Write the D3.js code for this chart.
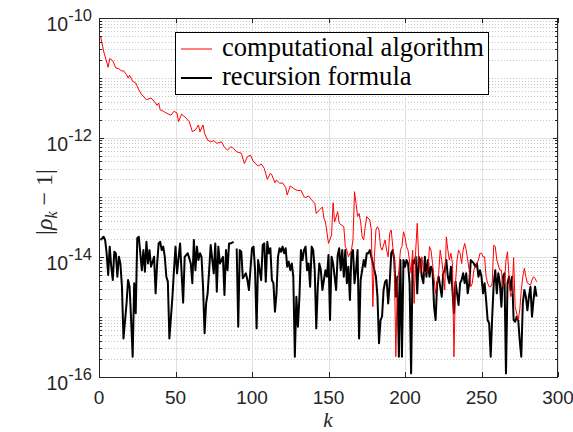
<!DOCTYPE html>
<html><head><meta charset="utf-8">
<script src="https://cdn.jsdelivr.net/npm/d3@7"></script>
<style>html,body{margin:0;padding:0;background:#fff;}svg{display:block;}</style>
</head><body>
<svg id="chart" width="573" height="432"></svg>
<script>
// ---- data ----
const xTickVals = [0, 50, 100, 150, 200, 250, 300];
const yTickExps = [-16, -14, -12, -10];
const seriesNames = ["computational algorithm", "recursion formula"];

const kRed = [1,3,6,7,9,11,13,15,16,18,19,20,22,24,26,28,30,31,34,36,38,39,40,42,44,47,49,51,52,54,57,59,61,63,65,66,68,69,71,73,75,77,80,82,84,86,88,90,93,95,97,99,101,104,106,108,110,112,113,115,116,118,120,122,123,125,128,130,132,134,135,137,139,141,142,144,146,147,148,150,152,153,154,156,157,160,161,162,163,165,166,167,168,169,170,171,172,173,174,175,177,178,179,180,181,182,183,184,185,187,188,189,190,191,192,193,194,195,196,197,198,199,200,201,202,204,205,206,207,208,209,210,211,212,213,215,216,217,218,220,221,222,223,224,225,226,227,228,229,230,231,232,233,234,235,236,237,238,239,240,242,243,244,245,246,248,249,250,251,252,253,254,255,256,257,258,259,260,262,263,264,265,266,267,268,269,270,271,272,274,275,276,277,278,279,280,282,283,284,285,286];
const vRed = [5.0e-11,2.8e-11,1.5e-11,2.1e-11,1.93e-11,1.46e-11,1.42e-11,1.29e-11,1.32e-11,1.13e-11,9.9e-12,1.10e-11,8.75e-12,8.2e-12,6.3e-12,5.2e-12,4.6e-12,4.3e-12,4.6e-12,4.06e-12,3.47e-12,3.8e-12,2.93e-12,2.76e-12,2.58e-12,2.37e-12,2.76e-12,2.58e-12,1.85e-12,2.48e-12,2.11e-12,1.85e-12,1.26e-12,1.34e-12,1.63e-12,1.26e-12,1.63e-12,1.18e-12,9.1e-13,8.55e-13,8.9e-13,8.05e-13,8.55e-13,6.9e-13,6.2e-13,7.06e-13,6.6e-13,5.8e-13,5.5e-13,3.7e-13,4.8e-13,5.1e-13,3.96e-13,3.36e-13,3.63e-13,3.08e-13,2.01e-13,2.54e-13,2.38e-13,1.77e-13,1.96e-13,1.73e-13,1.75e-13,1.48e-13,1.10e-13,1.56e-13,1.37e-13,1.30e-13,1.32e-13,1.03e-13,1.0e-13,1.06e-13,9.1e-14,8.0e-14,5.4e-14,6.2e-14,6.9e-14,4.5e-14,3.9e-14,1.71e-14,2.36e-14,8.2e-14,3.9e-14,5.8e-14,3.7e-14,3.25e-14,1.51e-14,1.32e-14,1.02e-14,1.32e-14,1.95e-14,1.25e-13,8.0e-14,4.8e-14,5.4e-14,3.9e-14,2.2e-14,1.95e-14,3.25e-14,4.8e-14,4.2e-14,2.86e-14,1.50e-15,1.02e-14,2.86e-14,3.25e-14,2.86e-14,1.51e-14,1.32e-14,1.95e-14,1.32e-14,1.02e-14,2.52e-14,2.86e-14,1.51e-14,9.0e-15,2.18e-16,3.7e-15,6.1e-15,1.32e-14,1.51e-14,2.68e-14,2.2e-14,1.51e-14,1.32e-14,5.4e-15,1.32e-14,1.70e-15,1.32e-14,3.7e-14,9.0e-15,5.4e-15,1.02e-14,6.1e-15,5.4e-15,6.1e-15,1.51e-14,1.32e-14,7.9e-15,2.5e-15,3.7e-15,5.4e-15,1.32e-14,9.0e-15,5.4e-15,2.84e-15,2.2e-14,1.32e-14,9.0e-15,1.17e-14,7.9e-15,2.18e-16,3.7e-15,9.0e-15,1.32e-14,1.17e-14,7.9e-15,1.32e-14,1.71e-14,1.32e-14,6.1e-15,3.23e-15,3.7e-15,6.1e-15,6.97e-15,9.0e-15,1.17e-14,1.17e-14,1.02e-14,1.02e-14,4.74e-15,3.7e-15,3.23e-15,3.23e-15,3.7e-15,1.61e-14,1.51e-14,9.0e-15,6.1e-15,6.1e-15,3.23e-15,3.7e-15,9.0e-15,1.24e-14,4.74e-15,2.2e-15,2.5e-15,9.86e-15,1.50e-15,8.95e-16,1.32e-15,2.84e-15,4.74e-15,6.55e-15,4.74e-15,3.7e-15,3.44e-15,4.18e-15,4.74e-15,4.46e-15,3.92e-15];

const kBlack = [1,3,4,5,6,7,8,9,10,11,12,13,14,15,16,18,19,20,21,22,23,24,25,26,27,28,29,30,31,32,33,34,36,37,38,39,40,41,42,43,44,45,46,48,49,50,51,53,55,56,58,60,61,62,63,64,65,66,67,68,69,70,71,72,73,75,76,77,78,79,81,82,83,84,85,86,88,89,90,91,92,93,94,96,97,98,100,101,102,103,104,106,107,108,109,110,111,112,113,114,115,116,117,118,119,120,121,122,123,124,125,126,127,128,129,130,131,132,133,134,135,136,137,138,139,140,141,142,143,144,145,146,147,148,149,150,151,152,153,154,155,156,157,158,159,160,161,162,163,164,165,166,167,168,169,170,171,172,173,174,175,176,177,178,179,180,181,182,183,184,185,186,187,188,189,190,191,192,193,194,195,196,197,198,199,200,201,202,203,204,205,206,207,208,209,210,211,212,213,214,215,216,217,218,219,220,221,222,224,225,226,227,228,229,230,231,232,233,234,235,236,237,238,239,240,241,242,243,244,245,246,247,248,249,250,251,252,253,254,255,256,257,258,259,260,261,262,263,264,265,266,267,268,269,270,271,272,273,274,275,276,277,278,279,280,281,282,283,284,285,286];
const vBlack = [1.95e-14,2.21e-14,1.95e-14,1.17e-14,5.06e-15,1.51e-14,6.97e-15,4.18e-15,1.24e-14,1.17e-14,4.74e-15,1.02e-14,7.9e-15,3.23e-15,4.4e-16,1.70e-15,4.18e-15,3.23e-15,8.95e-16,2.18e-16,3.7e-15,1.16e-15,2.08e-14,2.21e-14,1.17e-14,6.1e-15,1.32e-14,5.75e-15,1.82e-14,7.9e-15,1.32e-14,6.97e-15,1.02e-14,2.5e-15,7.9e-15,1.71e-14,1.82e-14,1.32e-14,1.51e-14,1.02e-14,4.74e-15,3.92e-15,4.4e-16,2.2e-15,6.1e-15,1.51e-14,5.4e-15,1.71e-14,1.75e-15,1.02e-14,1.17e-14,7.9e-15,3.7e-15,1.95e-14,6.1e-15,1.51e-14,9.0e-15,1.17e-14,1.02e-14,3.23e-15,5.4e-16,1.70e-15,2.5e-15,6.1e-15,1.61e-14,5.4e-15,1.71e-14,2.66e-15,1.51e-14,7.9e-15,1.02e-14,2.34e-15,1.32e-14,6.1e-15,1.71e-14,1.71e-14,1.82e-14,null,1.4e-14,6.9e-16,1.32e-14,1.24e-14,4.46e-15,5.4e-15,4.18e-15,2.84e-15,1.42e-14,1.51e-14,6.1e-15,6.5e-16,9.0e-15,4.18e-15,1.61e-14,1.71e-14,3.92e-15,1.82e-14,1.17e-14,1.42e-14,4.18e-15,3.7e-15,1.23e-15,2.5e-15,1.02e-14,1.42e-14,1.24e-14,1.51e-14,1.17e-14,1.42e-14,6.97e-15,8.45e-15,6.1e-15,7.9e-15,4.74e-15,2.18e-16,2.2e-15,6.9e-16,2.2e-15,1.32e-14,9.0e-15,1.32e-14,1.51e-14,6.1e-15,7.9e-15,3.23e-15,1.51e-14,1.32e-14,6.1e-15,6.5e-16,3.23e-15,7.9e-15,6.1e-15,2.84e-15,4.18e-15,6.1e-15,4.74e-15,1.09e-14,8.95e-16,1.02e-14,7.9e-15,4.74e-15,2.84e-15,1.09e-14,1.42e-14,6.1e-15,1.32e-14,4.74e-15,1.32e-14,3.7e-15,6.97e-15,1.94e-15,1.17e-14,1.32e-14,3.7e-15,6.1e-15,1.32e-14,4.4e-16,4.18e-15,6.1e-15,9.0e-15,6.97e-15,1.17e-14,1.17e-14,1.32e-14,1.02e-14,7.9e-15,6.1e-15,4.74e-15,2.2e-15,3.66e-16,8.95e-16,1.02e-15,2.84e-15,3.92e-15,4.18e-15,1.70e-15,3.7e-15,1.17e-14,1.32e-14,9.0e-15,2.2e-15,4.74e-15,2.18e-16,9.0e-15,2.18e-16,9.0e-15,6.97e-15,9.0e-15,7.9e-15,3.7e-15,1.15e-16,9.0e-15,7.9e-15,1.02e-14,2.5e-15,1.02e-14,9.0e-15,4.74e-15,3.7e-15,1.02e-14,4.74e-15,9.0e-15,4.74e-15,6.97e-15,6.1e-15,1.5e-15,8.95e-16,3.7e-15,4.74e-15,2.2e-15,5.4e-15,6.1e-15,9.0e-15,4.74e-15,3.7e-15,6.97e-15,2.84e-15,1.16e-15,3.92e-15,2.5e-15,1.60e-15,3.7e-15,4.18e-15,5.4e-15,3.7e-15,5.4e-15,2.5e-15,3.7e-15,9.0e-15,8.45e-15,7.9e-15,6.97e-15,7.9e-15,4.74e-15,6.1e-15,4.74e-15,2.5e-15,3.7e-15,1.94e-15,8.95e-16,7.9e-16,2.18e-16,1.02e-15,3.7e-15,6.1e-15,2.5e-15,5.4e-15,3.7e-15,1.50e-15,4.74e-15,5.4e-15,1.15e-16,3.7e-15,4.74e-15,2.84e-15,4.74e-15,8.95e-16,8.4e-16,1.02e-15,8.95e-16,4.0e-16,2.18e-16,1.70e-15,2.84e-15,2.2e-15,1.3e-15,2.2e-15,3.23e-15,1.02e-15,1.94e-15,3.23e-15,2.2e-15];

// ---- layout ----
const L = 99, R = 558, T = 18, B = 377;
const svg = d3.select("#chart");
const x = d3.scaleLinear().domain([0, 300]).range([L, R]);
const y = d3.scaleLog().domain([1e-16, 1e-10]).range([B, T]);
const axisColor = "#262626";

svg.append("rect").attr("x", L).attr("y", T).attr("width", R - L).attr("height", B - T).attr("fill", "#fff");

// minor values (log)
const minorVals = [];
for (let n = -16; n < -10; n++) {
  for (let m = 1; m <= 9; m++) {
    if (m === 1 && yTickExps.includes(n)) continue;
    minorVals.push(m * Math.pow(10, n));
  }
}
const g = svg.append("g");
g.selectAll("line.minor").data(minorVals).enter().append("line")
  .attr("x1", L).attr("x2", R)
  .attr("y1", d => Math.round(y(d)) + 0.5).attr("y2", d => Math.round(y(d)) + 0.5)
  .attr("stroke", "#c8c8c8").attr("stroke-width", 1).attr("stroke-dasharray", "1,2");
const majorY = yTickExps.map(e => Math.pow(10, e));
g.selectAll("line.gy").data(majorY).enter().append("line")
  .attr("x1", L).attr("x2", R)
  .attr("y1", d => Math.round(y(d)) + 0.5).attr("y2", d => Math.round(y(d)) + 0.5)
  .attr("stroke", "#e0e0e0").attr("stroke-width", 1);
g.selectAll("line.gx").data(xTickVals).enter().append("line")
  .attr("y1", T).attr("y2", B)
  .attr("x1", d => Math.round(x(d)) + 0.5).attr("x2", d => Math.round(x(d)) + 0.5)
  .attr("stroke", "#e0e0e0").attr("stroke-width", 1);

// lines
const lineGen = d3.line().defined(d => d[1] != null).x(d => x(d[0])).y(d => y(d[1]));
const redData = kRed.map((k, i) => [k, vRed[i]]);
const blackData = kBlack.map((k, i) => [k, vBlack[i]]);
svg.append("clipPath").attr("id", "clip").append("rect")
  .attr("x", L).attr("y", T).attr("width", R - L).attr("height", B - T);
svg.append("path").datum(blackData).attr("d", lineGen).attr("fill", "none")
  .attr("stroke", "#000").attr("stroke-width", 2).attr("stroke-linejoin", "round")
  .attr("clip-path", "url(#clip)");
svg.append("path").datum(redData).attr("d", lineGen).attr("fill", "none")
  .attr("stroke", "#ff0000").attr("stroke-width", 1).attr("stroke-linejoin", "round")
  .attr("clip-path", "url(#clip)");

// axes box & ticks
const ax = svg.append("g").attr("stroke", axisColor).attr("stroke-width", 1);
ax.append("rect").attr("x", L + 0.5).attr("y", T + 0.5).attr("width", R - L - 1).attr("height", B - T)
  .attr("fill", "none");
xTickVals.forEach(v => {
  const px = Math.round(x(v)) + 0.5;
  ax.append("line").attr("x1", px).attr("x2", px).attr("y1", B).attr("y2", B - 5);
  ax.append("line").attr("x1", px).attr("x2", px).attr("y1", T).attr("y2", T + 5);
});
majorY.forEach(v => {
  const py = Math.round(y(v)) + 0.5;
  ax.append("line").attr("x1", L).attr("x2", L + 5).attr("y1", py).attr("y2", py);
  ax.append("line").attr("x1", R).attr("x2", R - 5).attr("y1", py).attr("y2", py);
});
minorVals.forEach(v => {
  const py = Math.round(y(v)) + 0.5;
  ax.append("line").attr("x1", L).attr("x2", L + 3).attr("y1", py).attr("y2", py);
  ax.append("line").attr("x1", R).attr("x2", R - 3).attr("y1", py).attr("y2", py);
});

// tick labels
const sans = "'Liberation Sans', Arial, Helvetica, sans-serif";
svg.selectAll("text.xt").data(xTickVals).enter().append("text")
  .attr("x", d => x(d)).attr("y", 403.5).attr("text-anchor", "middle")
  .attr("font-family", sans).attr("font-size", 19).attr("fill", axisColor)
  .text(d => d);
yTickExps.forEach(e => {
  const py = y(Math.pow(10, e));
  const t = svg.append("text").attr("x", 92).attr("y", py + 13).attr("text-anchor", "end")
    .attr("font-family", sans).attr("font-size", 19.5).attr("fill", axisColor);
  t.append("tspan").text("10");
  t.append("tspan").attr("dy", -10).attr("font-size", 16.5).text(String(e));
});

// axis labels
const serif = "'Liberation Serif', 'Times New Roman', serif";
svg.append("text").attr("x", 328).attr("y", 427.3).attr("text-anchor", "middle")
  .attr("font-family", serif).attr("font-style", "italic").attr("font-size", 21).attr("fill", axisColor)
  .text("k");
const yl = svg.append("text").attr("transform", "translate(52,202) rotate(-90)")
  .attr("text-anchor", "middle").attr("font-family", serif).attr("font-size", 24).attr("fill", axisColor);
yl.append("tspan").text("|");
yl.append("tspan").attr("font-style", "italic").text("ρ");
yl.append("tspan").attr("font-style", "italic").attr("font-size", 16).attr("dy", 5).text("k");
yl.append("tspan").attr("dy", -5).text(" − 1|");

// legend
const lg = svg.append("g");
lg.append("rect").attr("x", 175.5).attr("y", 32.5).attr("width", 313).attr("height", 62)
  .attr("fill", "#fff").attr("stroke", "#000").attr("stroke-width", 1);
const legColors = ["#ff0000", "#000"];
const legWidths = [1, 2];
const legY = [49, 78];
seriesNames.forEach((name, i) => {
  lg.append("line").attr("x1", 181).attr("x2", 212).attr("y1", legY[i]).attr("y2", legY[i])
    .attr("stroke", legColors[i]).attr("stroke-width", legWidths[i]);
  const t = lg.append("text").attr("x", 222).attr("y", legY[i] + 7)
    .attr("font-family", serif).attr("font-size", 22).attr("fill", "#000").text(name);
  if (i === 0) {
    const w = t.node().getComputedTextLength();
    const fs = 22 * 262 / w;
    lg.selectAll("text").attr("font-size", fs);
  } else {
    t.attr("font-size", lg.select("text").attr("font-size"));
  }
});
</script>
</body></html>
